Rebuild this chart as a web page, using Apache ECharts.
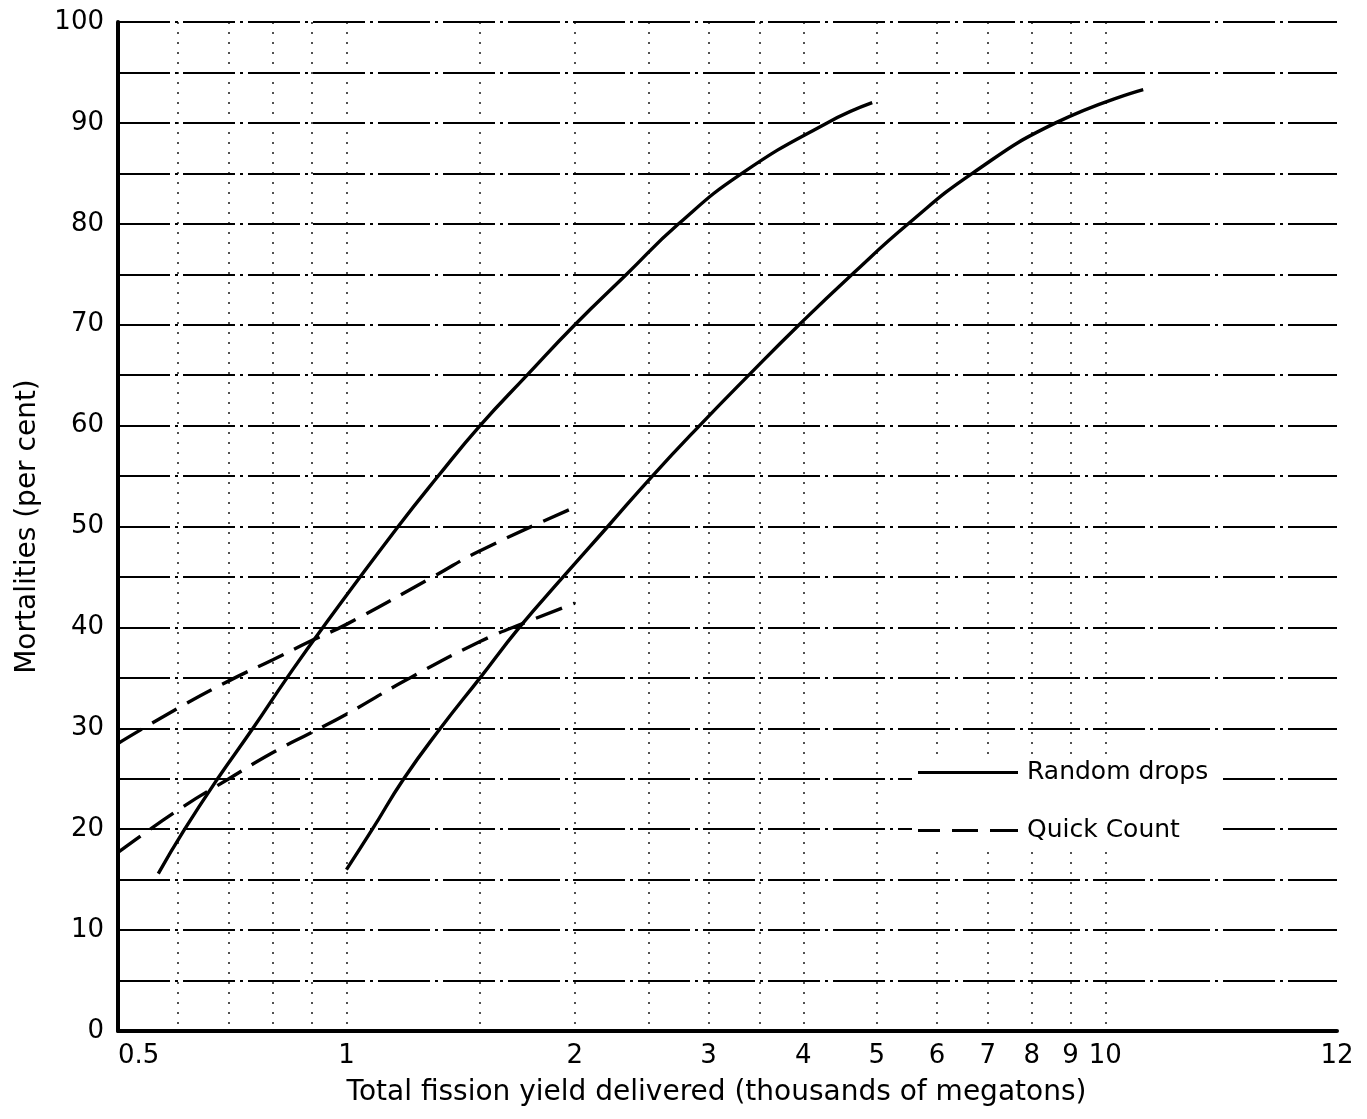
<!DOCTYPE html>
<html>
<head>
<meta charset="utf-8">
<script src="https://cdn.jsdelivr.net/npm/echarts@6/dist/echarts.min.js"></script>
<style>
html,body{margin:0;padding:0;background:#fff;}
#chart{width:1367px;height:1119px;}
</style>
</head>
<body>
<div id="chart"></div>
<script>
// ---- data ----
const randomA_x = [0.565, 0.611, 0.675, 0.753, 0.835, 0.931, 1.170, 1.321, 1.500, 1.730, 2.000, 2.340, 2.740, 3.32, 4.30, 4.93];
const randomA_y = [15.6, 19.9, 24.9, 30, 35, 40, 50, 55, 60, 65, 70, 75, 80, 85, 90, 92.0];
const randomB_x = [1.0, 1.082, 1.19, 1.33, 1.50, 1.69, 1.93, 2.21, 2.53, 2.92, 3.39, 3.95, 4.64, 5.50, 6.68, 8.60, 11.22];
const randomB_y = [16.0, 20, 25, 30, 35, 40, 45, 50, 55, 60, 65, 70, 75, 80, 85, 90, 93.3];
const quickA_x = [0.5, 0.6, 0.7, 0.8, 0.9, 1.0, 1.3, 1.5, 2.0];
const quickA_y = [28.5, 32.0, 34.7, 36.8, 38.7, 40.3, 45.0, 47.6, 51.9];
const quickB_x = [0.5, 0.6, 0.7, 0.8, 0.9, 1.0, 1.2, 1.5, 1.75, 2.0];
const quickB_y = [17.7, 21.9, 25.0, 27.6, 29.6, 31.4, 34.8, 38.6, 40.7, 42.4];

const xMin = 0.5;
const xMax = 20.2;           // right end of the axis, labelled "12" in the original
const xTickValues = [0.5, 1, 2, 3, 4, 5, 6, 7, 8, 9, 10, 20.2];
const xTickLabels = ['0.5', '1', '2', '3', '4', '5', '6', '7', '8', '9', '10', '12'];
const xGridValues = [0.6, 0.7, 0.8, 0.9, 1, 1.5, 2, 2.5, 3, 3.5, 4, 5, 6, 7, 8, 9, 10];

const seriesNames = ['Random drops', 'Quick Count'];
const yAxisName = 'Mortalities (per cent)';
const xAxisName = 'Total fission yield delivered (thousands of megatons)';

function pairs(xs, ys) { return xs.map((x, i) => [x, ys[i]]); }

const FONT = 'DejaVu Sans';
const chart = echarts.init(document.getElementById('chart'), null, {renderer: 'canvas'});

const solidStyle = {color: '#000', width: 3.4, type: 'solid'};
const dashStyle = {color: '#000', width: 3.4, type: [28, 12]};

const solidIcon = 'path://M0,0h100v3h-100z';
const dashIcon = 'path://M0,0h22v3h-22z M34,0h26v3h-26z M72,0h28v3h-28z';

chart.setOption({
  backgroundColor: '#fff',
  animation: false,
  grid: {left: 118, right: 30, top: 22, bottom: 88, containLabel: false},
  legend: {
    left: 912, top: 754, orient: 'vertical',
    padding: [6, 12, 8, 6],
    backgroundColor: '#fff',
    itemWidth: 100, itemHeight: 3, itemGap: 33,
    itemStyle: {color: '#000', borderWidth: 0},
    textStyle: {fontFamily: FONT, fontSize: 25, color: '#000', padding: [0, 0, 0, 4]},
    data: [
      {name: seriesNames[0], icon: solidIcon},
      {name: seriesNames[1], icon: dashIcon}
    ]
  },
  xAxis: [{
    type: 'log', logBase: 10, min: xMin, max: xMax,
    name: xAxisName, nameLocation: 'middle', nameGap: 48,
    nameTextStyle: {fontFamily: FONT, fontSize: 28, color: '#000', padding: [0, 22, 0, 0]},
    axisLine: {show: true, lineStyle: {color: '#000', width: 4}},
    axisTick: {show: false, customValues: xGridValues},
    axisLabel: {
      customValues: xTickValues,
      formatter: function (v) {
        let best = 0;
        for (let i = 0; i < xTickValues.length; i++) {
          if (Math.abs(xTickValues[i] - v) < Math.abs(xTickValues[best] - v)) best = i;
        }
        return xTickLabels[best];
      },
      fontFamily: FONT, fontSize: 26, color: '#000', margin: 12,
      alignMinLabel: 'left', showMinLabel: true, showMaxLabel: true
    },
    splitLine: {show: true, lineStyle: {color: '#000', width: 1.6, type: [2, 8], opacity: 0.85}},
    minorTick: {show: false},
    minorSplitLine: {show: false}
  }],
  yAxis: [{
    type: 'value', min: 0, max: 100, interval: 5,
    name: yAxisName, nameLocation: 'middle', nameGap: 76, nameRotate: 90,
    nameTextStyle: {fontFamily: FONT, fontSize: 28, color: '#000'},
    axisLine: {show: true, lineStyle: {color: '#000', width: 4}},
    axisTick: {show: false},
    axisLabel: {
      formatter: v => (v % 10 === 0 ? String(v) : ''),
      fontFamily: FONT, fontSize: 26, color: '#000', margin: 14
    },
    splitLine: {show: true, lineStyle: {color: '#000', width: 2, type: [52, 5, 3, 5]}}
  }],
  series: [
    {name: seriesNames[0], type: 'line', data: pairs(randomA_x, randomA_y), smooth: 0.5,
     symbol: 'none', lineStyle: solidStyle, itemStyle: {color: '#000'}, z: 5},
    {name: seriesNames[0], type: 'line', data: pairs(randomB_x, randomB_y), smooth: 0.5,
     symbol: 'none', lineStyle: solidStyle, itemStyle: {color: '#000'}, z: 5},
    {name: seriesNames[1], type: 'line', data: pairs(quickA_x, quickA_y), smooth: 0.5,
     symbol: 'none', lineStyle: dashStyle, itemStyle: {color: '#000'}, z: 5},
    {name: seriesNames[1], type: 'line', data: pairs(quickB_x, quickB_y), smooth: 0.5,
     symbol: 'none', lineStyle: dashStyle, itemStyle: {color: '#000'}, z: 5}
  ]
});
</script>
</body>
</html>
